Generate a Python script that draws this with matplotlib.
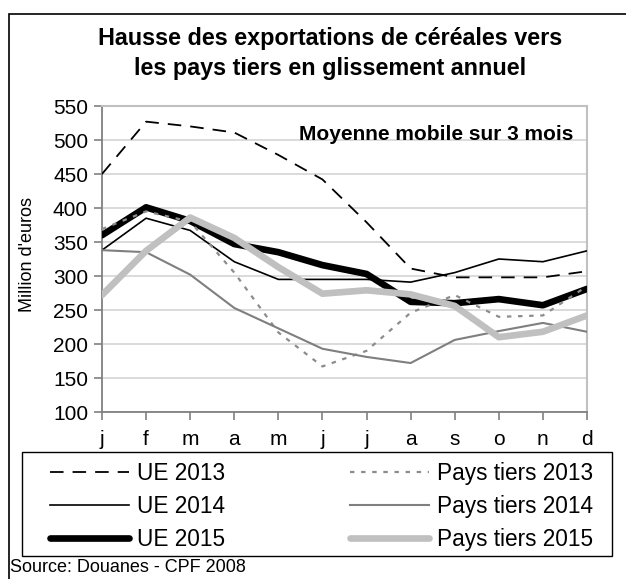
import matplotlib
matplotlib.use("Agg")
import matplotlib.pyplot as plt
from matplotlib.patches import Rectangle

plt.rcParams['font.family'] = ['Liberation Sans', 'DejaVu Sans']

months = ['j', 'f', 'm', 'a', 'm', 'j', 'j', 'a', 's', 'o', 'n', 'd']
ue2013 = [450, 527, 520, 511, 478, 442, 379, 311, 298, 298, 298, 307]
ue2014 = [338, 385, 367, 321, 295, 295, 295, 291, 305, 325, 321, 337]
ue2015 = [360, 401, 381, 347, 335, 316, 303, 262, 260, 266, 257, 281]
pt2013 = [369, 395, 380, 305, 217, 167, 190, 246, 272, 240, 242, 285]
pt2014 = [338, 335, 302, 253, 223, 193, 181, 172, 206, 219, 231, 218]
pt2015 = [272, 337, 386, 356, 313, 274, 279, 273, 256, 210, 218, 242]
yticks = [100, 150, 200, 250, 300, 350, 400, 450, 500, 550]

W, H = 626, 579
fig = plt.figure(figsize=(W / 100, H / 100), dpi=100)
fig.patch.set_facecolor('white')

def fx(px):
    return px / W

def fy(py):
    return 1 - py / H

ax = fig.add_axes([fx(102), fy(412), fx(587) - fx(102), fy(106) - fy(412)])
x = list(range(len(months)))

l1, = ax.plot(x, ue2013, color='black', lw=1.3, linestyle=(0, (7.5, 5)), label='UE 2013', zorder=3)
l2, = ax.plot(x, ue2014, color='black', lw=1.2, label='UE 2014', zorder=3)
l3, = ax.plot(x, ue2015, color='black', lw=4.8, label='UE 2015', zorder=3, solid_capstyle='round')
l4, = ax.plot(x, pt2013, color='#8c8c8c', lw=1.6, linestyle=(0, (2, 3)), label='Pays tiers 2013', zorder=3)
l5, = ax.plot(x, pt2014, color='#7f7f7f', lw=1.5, label='Pays tiers 2014', zorder=3)
l6, = ax.plot(x, pt2015, color='#c0c0c0', lw=4.8, label='Pays tiers 2015', zorder=3, solid_capstyle='round')

ax.set_xlim(0, 11)
ax.set_ylim(100, 550)
ax.set_yticks(yticks)
ax.set_yticklabels([str(v) for v in yticks], fontsize=15)
ax.set_xticks(x)
ax.set_xticklabels(months, fontsize=15)
ax.tick_params(axis='both', direction='out', length=6, width=1.2, color='#808080')
ax.tick_params(axis='x', pad=7)
ax.tick_params(axis='y', pad=4)
ax.grid(axis='y', color='#d4d4d4', lw=1.2, zorder=0)
ax.set_axisbelow(True)
for s in ['left', 'bottom']:
    ax.spines[s].set_color('#808080')
    ax.spines[s].set_linewidth(1.3)
for s in ['top', 'right']:
    ax.spines[s].set_color('#c0c0c0')
    ax.spines[s].set_linewidth(1.5)

fig.text(fx(28), fy(255), "Million d'euros", rotation=90, ha='center', va='center', fontsize=13)

fig.text(fx(573), fy(134), 'Moyenne mobile sur 3 mois', ha='right', va='center',
         fontsize=15, fontweight='bold')

fig.text(fx(330), fy(38), 'Hausse des exportations de céréales vers', ha='center', va='center',
         fontsize=16.8, fontweight='bold')
fig.text(fx(330), fy(69), 'les pays tiers en glissement annuel', ha='center', va='center',
         fontsize=16.8, fontweight='bold')

handles = [l1, l2, l3, l4, l5, l6]
leg = fig.legend(handles=handles, labels=[h.get_label() for h in handles], ncol=2,
                 loc='upper left', bbox_to_anchor=(fx(50), fy(462)),
                 fontsize=16.3, frameon=False,
                 handlelength=3.5, handletextpad=0.35, borderaxespad=0, labelspacing=0.44,
                 borderpad=0, columnspacing=5.5)

fig.patches.append(Rectangle((fx(22), fy(556)), fx(612) - fx(22), fy(452) - fy(556),
                             transform=fig.transFigure, fill=False, edgecolor='black', lw=1.0))

fig.text(fx(10), fy(567), 'Source: Douanes - CPF 2008', ha='left', va='center', fontsize=13)

fig.patches.append(Rectangle((fx(8.5), -0.1), 1.2, fy(14) + 0.1, transform=fig.transFigure,
                             fill=False, edgecolor='black', lw=1.2))

fig.savefig('out.png', dpi=100)
